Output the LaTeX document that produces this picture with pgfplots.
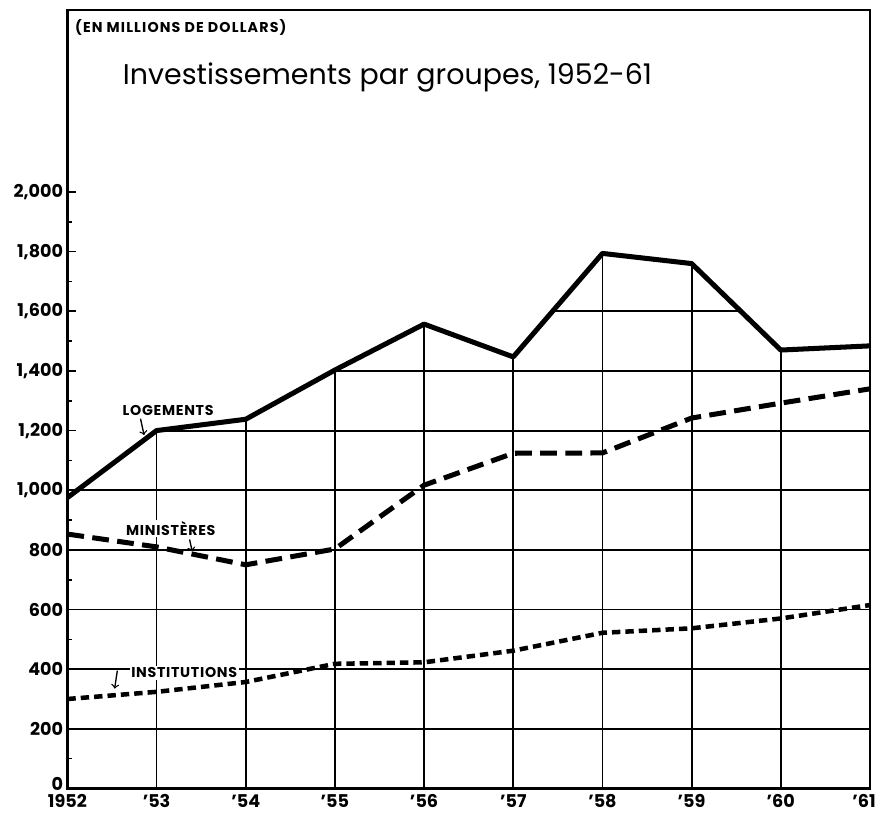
\documentclass[border=0pt]{standalone}
\usepackage{fontspec}
\setmainfont{Poppins}
\usepackage{pgfplots}
\pgfplotsset{compat=1.18}
\usepackage{pgfplotstable}

% years 1952..1961 plotted at 0..9, millions of dollars
\pgfplotstableread{
x y
0 975
1 1200
2 1238
3 1403
4 1557
5 1447
6 1794
7 1760
8 1470
9 1484
}\logements

\pgfplotstableread{
x y
0 853
1 810
2 750
3 803
4 1017
5 1124
6 1125
7 1242
8 1292
9 1340
}\ministeres

\pgfplotstableread{
x y
0 300
1 324
2 357
3 418
4 423
5 462
6 522
7 537
8 570
9 615
}\institutions

\newcommand{\lbl}{\fontsize{8.5}{10}\selectfont\bfseries\addfontfeatures{LetterSpace=5}}

\begin{document}
\begin{tikzpicture}
\begin{axis}[
  set layers,
  scale only axis,
  width=478.8pt, height=464.4pt,
  xmin=0, xmax=9, ymin=0, ymax=2610,
  xtick={0,...,9},
  xticklabels={1952,'53,'54,'55,'56,'57,'58,'59,'60,\hspace*{-7pt}'61},
  ytick={0,200,...,2000},
  yticklabels={\raisebox{5pt}{0},200,400,600,800,{1,000},{1,200},{1,400},{1,600},{1,800},{2,000}},
  minor ytick={100,300,...,1900},
  xtick pos=bottom, ytick pos=left,
  xtick style={draw=none},
  major tick length=5pt, minor tick length=3pt,
  ytick style={black, line width=1pt},
  grid=major,
  major grid style={black, line width=1.1pt},
  axis line style={black, line width=1.4pt},
  /pgf/number format/assume math mode=true,
  tick label style={font=\fontsize{10.5}{12}\selectfont\bfseries},
  yticklabel style={xshift=1pt},
  xticklabel style={yshift=0pt},
]
% white area above the housing line hides the grid there
\addplot[draw=none, fill=white, on layer=axis grid, forget plot]
  table {\logements} -- (axis cs:9,2610) -- (axis cs:0,2610) -- cycle;

\addplot[black, line width=3pt, line join=round] table {\logements};
\addplot[black, line width=3pt, dash pattern=on 10pt off 5pt] table {\ministeres};
\addplot[black, line width=2.7pt, dash pattern=on 5pt off 3pt] table {\institutions};

\node[anchor=west, font=\fontsize{8.5}{10}\selectfont\bfseries\addfontfeatures{LetterSpace=8}] at (axis cs:0.02,2553) {(EN MILLIONS DE DOLLARS)};
\node[font=\fontsize{17}{20}\selectfont] at (axis cs:3.59,2385) {Investissements par groupes, 1952-61};

\node[fill=white, inner sep=1pt, font=\lbl] at (axis cs:1.13,1268) {LOGEMENTS};
\draw[->, line width=0.8pt] (axis cs:0.82,1240) -- (axis cs:0.86,1185);
\node[fill=white, inner sep=1pt, font=\lbl] at (axis cs:1.16,872) {MINISTÈRES};
\draw[->, line width=0.8pt] (axis cs:1.37,835) -- (axis cs:1.40,795);
\node[fill=white, inner sep=1pt, font=\lbl] at (axis cs:1.31,388) {INSTITUTIONS};
\draw[->, line width=0.8pt] (axis cs:0.56,395) -- (axis cs:0.53,335);

\coordinate (sw) at (rel axis cs:0,0);
\coordinate (ne) at (rel axis cs:1,1);
\end{axis}
\pgfresetboundingbox
\path[use as bounding box] ([xshift=-40.2pt,yshift=-15.6pt]sw) rectangle ([xshift=4.8pt,yshift=6pt]ne);
\end{tikzpicture}
\end{document}
